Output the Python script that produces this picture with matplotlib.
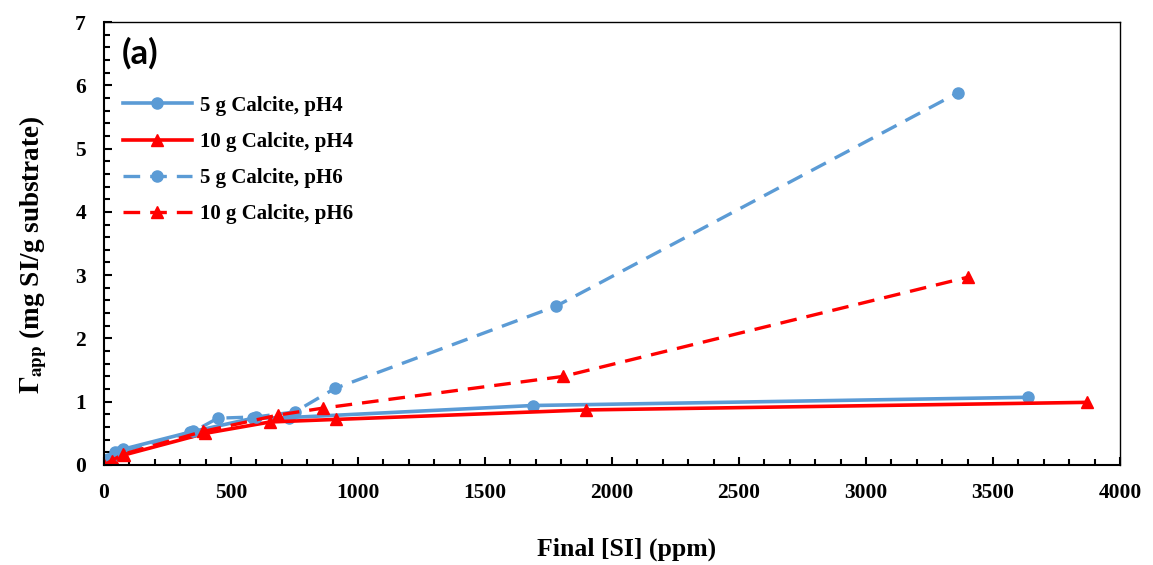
import matplotlib
matplotlib.use("Agg")
from matplotlib import pyplot as plt
from matplotlib.ticker import MultipleLocator

# data
x_5g_ph4 = [0, 15, 43, 76, 340, 588, 730, 1688, 3639]
y_5g_ph4 = [0, 0.10, 0.20, 0.25, 0.52, 0.74, 0.75, 0.94, 1.07]

x_10g_ph4 = [0, 34, 80, 398, 654, 912, 1898, 3871]
y_10g_ph4 = [0, 0.08, 0.16, 0.50, 0.68, 0.72, 0.87, 0.99]

x_5g_ph6 = [0, 25, 60, 352, 448, 600, 752, 909, 1780, 3361]
y_5g_ph6 = [0, 0.10, 0.20, 0.53, 0.74, 0.76, 0.84, 1.21, 2.51, 5.88]

x_10g_ph6 = [0, 30, 75, 390, 686, 864, 1808, 3403]
y_10g_ph6 = [0, 0.07, 0.17, 0.53, 0.79, 0.90, 1.40, 2.97]

labels = ["5 g Calcite, pH4", "10 g Calcite, pH4", "5 g Calcite, pH6", "10 g Calcite, pH6"]

blue = "#5B9BD5"
red = "#FF0000"

plt.rcParams["font.family"] = ["Liberation Serif", "DejaVu Serif"]
plt.rcParams["font.weight"] = "bold"
plt.rcParams["mathtext.fontset"] = "stix"

fig = plt.figure(figsize=(11.53, 5.65), dpi=100)
ax = fig.add_axes([0.0902, 0.177, 0.8812, 0.784])

dash = (0, (5, 3))
ax.plot(x_5g_ph4, y_5g_ph4, color=blue, lw=2.6, marker="o", ms=8, label=labels[0])
ax.plot(x_10g_ph4, y_10g_ph4, color=red, lw=2.6, marker="^", ms=9, label=labels[1])
ax.plot(x_5g_ph6, y_5g_ph6, color=blue, lw=2.4, ls=dash, marker="o", ms=8, label=labels[2])
ax.plot(x_10g_ph6, y_10g_ph6, color=red, lw=2.4, ls=dash, marker="^", ms=9, label=labels[3])

ax.set_xlim(0, 4000)
ax.set_ylim(0, 7)
ax.xaxis.set_major_locator(MultipleLocator(500))
ax.xaxis.set_minor_locator(MultipleLocator(100))
ax.yaxis.set_major_locator(MultipleLocator(1))
ax.yaxis.set_minor_locator(MultipleLocator(0.2))
ax.tick_params(which="both", direction="in", labelsize=15.5, width=1.5)
ax.tick_params(which="major", length=6)
ax.tick_params(which="minor", length=4)
ax.tick_params(axis="x", pad=13)
ax.tick_params(axis="y", pad=13)
for s in ax.spines.values():
    s.set_linewidth(1.5)
ax.spines["top"].set_linewidth(1.0)
ax.spines["right"].set_linewidth(1.0)

ax.set_xlabel("Final [SI] (ppm)", fontsize=18.5, fontweight="bold", labelpad=25)
ax.xaxis.label.set_x(0.514)
ax.set_ylabel(r"$\mathbf{\Gamma_{app}}$ (mg SI/g substrate)", fontsize=19.5, fontweight="bold", labelpad=19)
ax.yaxis.label.set_y(0.474)

ax.text(0.017, 0.93, "(a)", transform=ax.transAxes, fontsize=25, fontweight="bold",
        family="Lato", va="center")

ax.legend(loc="upper left", bbox_to_anchor=(0.0, 0.876), frameon=False, fontsize=15,
          handlelength=3.3, labelspacing=0.78, numpoints=1, handletextpad=0.4)

fig.savefig("out.png", dpi=100)
